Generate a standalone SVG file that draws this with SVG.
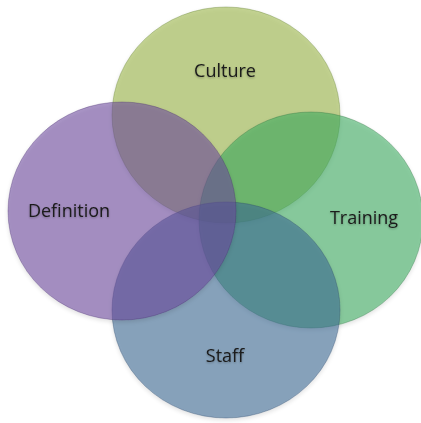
<svg xmlns="http://www.w3.org/2000/svg" width="421" height="423" viewBox="0 0 421 423">
  <defs>
    <filter id="soft" x="-10%" y="-10%" width="120%" height="125%">
      <feGaussianBlur in="SourceAlpha" stdDeviation="2"/>
      <feOffset dx="0" dy="2" result="b"/>
      <feComponentTransfer><feFuncA type="linear" slope="0.2"/></feComponentTransfer>
      <feMerge><feMergeNode/><feMergeNode in="SourceGraphic"/></feMerge>
    </filter>
    <filter id="glow" x="-10%" y="-30%" width="120%" height="160%">
      <feGaussianBlur in="SourceAlpha" stdDeviation="1.2"/>
      <feOffset dx="0" dy="1"/>
      <feComponentTransfer><feFuncA type="linear" slope="0.3"/></feComponentTransfer>
      <feMerge><feMergeNode/><feMergeNode in="SourceGraphic"/></feMerge>
    </filter>
  </defs>
  <style>
    .set { fill-opacity: 0.56; stroke-width: 1; stroke-opacity: 0.35; }
    .label { font-family: "Open Sans", "Liberation Sans", sans-serif; font-size: 18px; fill: #1a1a1a; text-anchor: middle; }
  </style>
  <rect width="421" height="423" fill="#ffffff"/>

  <!-- sets are stacked in this order: culture, training, staff, definition -->
  <g id="culture" filter="url(#soft)">
    <ellipse class="set" cx="226" cy="115" rx="114" ry="108" fill="#98b444" stroke="#5f7a2a"/>
  </g>
  <g id="training" filter="url(#soft)">
    <ellipse class="set" cx="311" cy="220" rx="112" ry="108" fill="#3bab5e" stroke="#2a7040"/>
  </g>
  <g id="staff" filter="url(#soft)">
    <ellipse class="set" cx="226" cy="310" rx="114" ry="108" fill="#3b6794" stroke="#2a4766"/>
  </g>
  <g id="definition" filter="url(#soft)">
    <ellipse class="set" cx="122" cy="211" rx="114" ry="109" fill="#6b479d" stroke="#4a3070"/>
  </g>

  <g id="labels" filter="url(#glow)">
    <text class="label" x="225" y="77">Culture</text>
    <text class="label" x="69" y="217">Definition</text>
    <text class="label" x="364" y="224">Training</text>
    <text class="label" x="225" y="362">Staff</text>
  </g>
</svg>
